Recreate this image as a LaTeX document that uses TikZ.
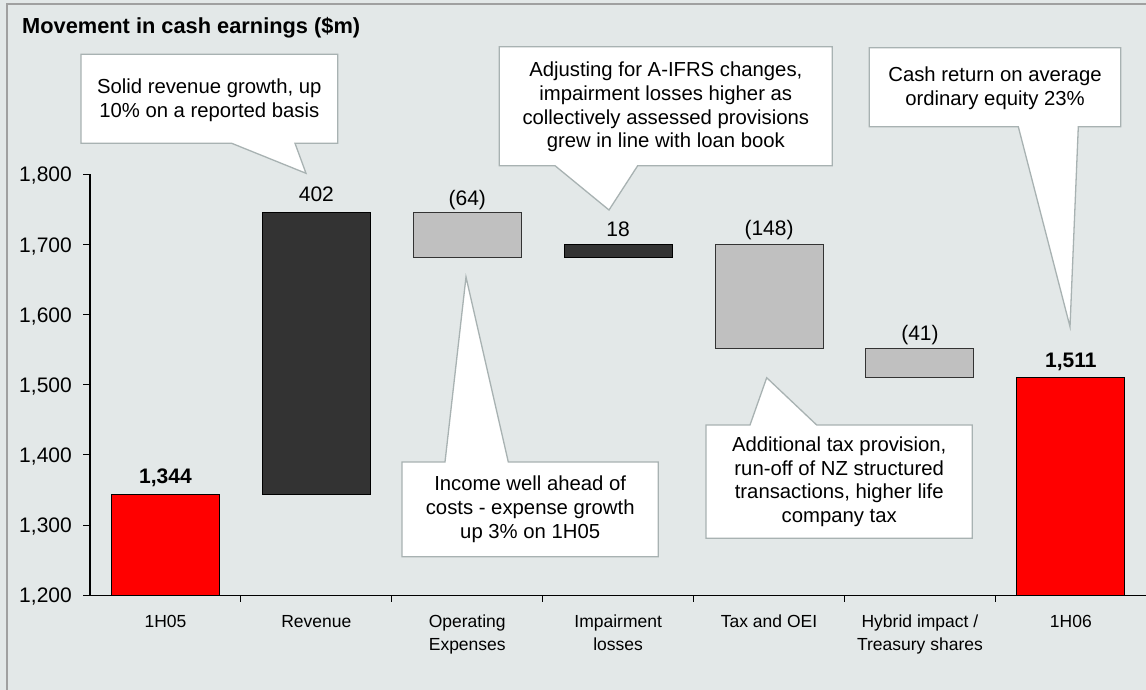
\documentclass[tikz,border=0pt]{standalone}
\usepackage{fontspec}
\setmainfont{Liberation Sans}
\definecolor{bg}{RGB}{227,232,232}
\definecolor{framegray}{RGB}{160,160,160}
\definecolor{callborder}{RGB}{168,178,178}
\definecolor{darkbar}{RGB}{51,51,51}
\definecolor{lightbar}{RGB}{192,192,192}
\definecolor{redbar}{RGB}{255,0,0}
\begin{document}
\begin{tikzpicture}[x=1pt,y=-1pt,
  callout/.style={fill=white,draw=callborder,line width=1.3pt,line join=miter},
  calltext/.style={align=center,font=\fontsize{20.3}{23.8}\selectfont,inner sep=0pt},
  ticklab/.style={anchor=base east,font=\fontsize{21}{24}\selectfont,inner sep=0pt},
  catlab/.style={anchor=base,align=center,font=\fontsize{17.5}{22.5}\selectfont,inner sep=0pt},
  vallab/.style={anchor=base,font=\fontsize{21}{24}\selectfont,inner sep=0pt},
  boldlab/.style={vallab,font=\fontsize{21}{24}\selectfont\bfseries},
  redstyle/.style={fill=redbar,draw=black,line width=1pt},
  darkstyle/.style={fill=darkbar,draw=black,line width=1pt},
  graystyle/.style={fill=lightbar,draw=darkbar,line width=1pt},
  axisline/.style={draw=black,line width=1.3pt}]
\useasboundingbox (0,0) rectangle (1146,690);
\fill[bg] (0,0) rectangle (1146,690);
\draw[framegray,line width=2pt] (7,690) -- (7,4.5) -- (1146,4.5);

% title
\node[anchor=base west,inner sep=0pt,font=\fontsize{21.8}{24}\selectfont\bfseries] (title) at (22,33.3) {Movement in cash earnings (\$m)};

% y axis
\draw[axisline] (90,174.3) -- (90,595.3);
\foreach \v/\lab in {1800/{1,800},1700/{1,700},1600/{1,600},1500/{1,500},1400/{1,400},1300/{1,300},1200/{1,200}}{
  \pgfmathsetmacro{\yy}{595.3-(\v-1200)*0.7017}
  \draw[black,line width=1pt] (83,\yy) -- (90,\yy);
  \node[ticklab] at (72,\yy+7.6) {\lab};
}
% x axis
\draw[axisline] (90,595.3) -- (1146,595.3);
\foreach \i in {1,...,6}{
  \draw[black,line width=1pt] (90+150.9*\i,595.3) -- (90+150.9*\i,602);
}

% bars
\draw[redstyle]  (111.45,494.3) rectangle (219.45,595.3);
\draw[darkstyle] (262.35,212.2) rectangle (370.35,494.3);
\draw[graystyle] (413.25,212.2) rectangle (521.25,257.1);
\draw[darkstyle] (564.15,244.4) rectangle (672.15,257.1);
\draw[graystyle] (715.05,244.4) rectangle (823.05,348.3);
\draw[graystyle] (865.95,348.3) rectangle (973.95,377.1);
\draw[redstyle]  (1016.85,377.1) rectangle (1124.85,595.3);

% value labels
\node[boldlab] (v1) at (165.45,483.5) {1,344};
\node[vallab] (v2) at (316.35,201.7) {402};
\node[vallab] (v3) at (467.25,205) {(64)};
\node[vallab] (v4) at (618.15,236.7) {18};
\node[vallab] (v5) at (769.05,235.5) {(148)};
\node[vallab] (v6) at (919.95,340.5) {(41)};
\node[boldlab] (v7) at (1070.85,367.5) {1,511};

% category labels
\node[catlab] (c1) at (165.45,627.7) {1H05};
\node[catlab] (c2) at (316.35,627.7) {Revenue};
\node[catlab] (c3) at (467.25,650.2) {Operating\\Expenses};
\node[catlab] (c4) at (618.15,650.2) {Impairment\\losses};
\node[catlab] (c5) at (769.05,627.7) {Tax and OEI};
\node[catlab] (c6) at (919.95,650.2) {Hybrid impact /\\Treasury shares};
\node[catlab] (c7) at (1070.85,627.7) {1H06};

% callouts
\draw[callout] (81,54.3) -- (337.7,54.3) -- (337.7,143.3) -- (295,143.3) -- (306,173.3) -- (231.7,143.3) -- (81,143.3) -- cycle;
\node[calltext] (t1) at (209.3,100) {Solid revenue growth, up\\10\% on a reported basis};

\draw[callout] (499.3,46.7) -- (832.3,46.7) -- (832.3,165.7) -- (637.7,165.7) -- (609,210) -- (555,165.7) -- (499.3,165.7) -- cycle;
\node[calltext] (t2) at (665.8,107) {Adjusting for A-IFRS changes,\\impairment losses higher as\\collectively assessed provisions\\grew in line with loan book};

\draw[callout] (402,462) -- (445,462) -- (466,277) -- (508.3,462) -- (658.3,462) -- (658.3,556.7) -- (402,556.7) -- cycle;
\node[calltext] (t3) at (530.2,509.3) {Income well ahead of\\costs - expense growth\\up 3\% on 1H05};

\draw[callout] (706,425) -- (750,425) -- (766.7,377.7) -- (816.7,425) -- (972.3,425) -- (972.3,538.3) -- (706,538.3) -- cycle;
\node[calltext] (t4) at (839.2,481.7) {Additional tax provision,\\run-off of NZ structured\\transactions, higher life\\company tax};

\draw[callout] (869.3,47.7) -- (1120.7,47.7) -- (1120.7,126.7) -- (1078.3,126.7) -- (1070,326.7) -- (1018.3,126.7) -- (869.3,126.7) -- cycle;
\node[calltext] (t5) at (995,88) {Cash return on average\\ordinary equity 23\%};
\end{tikzpicture}
\end{document}
